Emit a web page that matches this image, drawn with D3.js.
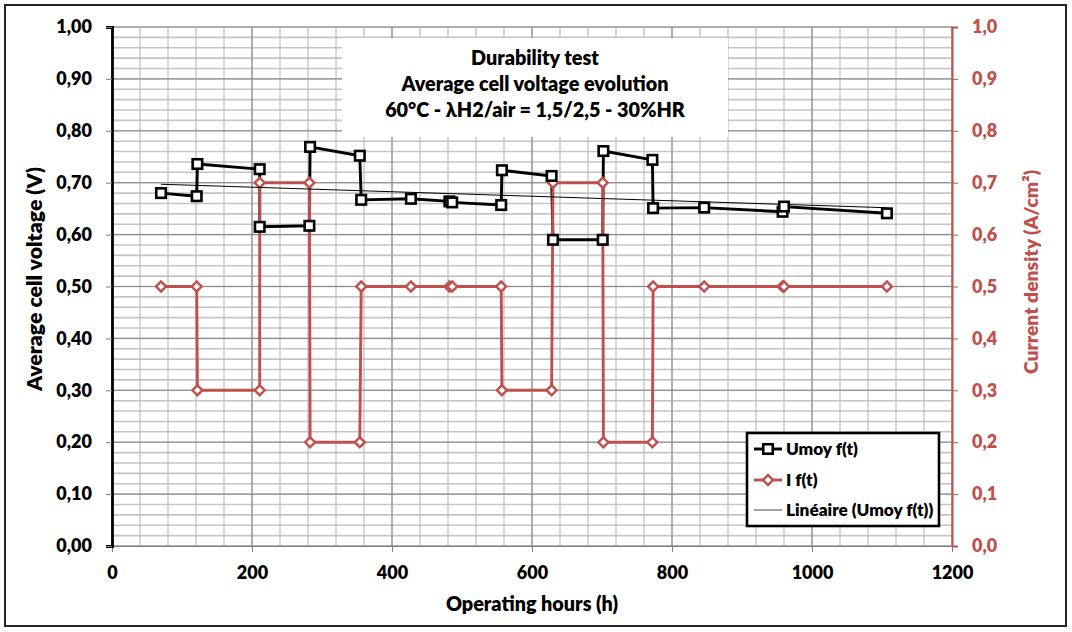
<!DOCTYPE html>
<html>
<head>
<meta charset="utf-8">
<script src="https://cdn.jsdelivr.net/npm/d3@7/dist/d3.min.js"></script>
<style>
  html, body { margin: 0; padding: 0; background: #fff; }
  svg { display: block; }
  text { font-family: Lato, "Open Sans", sans-serif; font-weight: 800; }
</style>
</head>
<body>
<svg id="chart" width="1072" height="632"></svg>
<script>
// Durability test: operating hours, average cell voltage, current density
const hours   = [70, 121, 122, 211, 211, 282, 283, 354, 356, 427, 482, 486,
                 556, 557, 628, 630, 701, 702, 772, 773, 846, 958, 960, 1107];
const voltage = [0.680, 0.674, 0.736, 0.726, 0.615, 0.617, 0.769, 0.752, 0.667, 0.669, 0.664, 0.662,
                 0.657, 0.724, 0.713, 0.590, 0.590, 0.761, 0.744, 0.651, 0.652, 0.644, 0.654, 0.641];
const current = [0.5, 0.5, 0.3, 0.3, 0.7, 0.7, 0.2, 0.2, 0.5, 0.5, 0.5, 0.5,
                 0.5, 0.3, 0.3, 0.7, 0.7, 0.2, 0.2, 0.5, 0.5, 0.5, 0.5, 0.5];

const xTicks = [0, 200, 400, 600, 800, 1000, 1200];
const xTickLabels = ["0", "200", "400", "600", "800", "1000", "1200"];
const yTicks = [0, 0.1, 0.2, 0.3, 0.4, 0.5, 0.6, 0.7, 0.8, 0.9, 1.0];
const voltTickLabels = ["0,00", "0,10", "0,20", "0,30", "0,40", "0,50", "0,60", "0,70", "0,80", "0,90", "1,00"];
const currTickLabels = ["0,0", "0,1", "0,2", "0,3", "0,4", "0,5", "0,6", "0,7", "0,8", "0,9", "1,0"];

const titleLines = ["Durability test", "Average cell voltage evolution", "60°C - λH2/air = 1,5/2,5 - 30%HR"];
const legendLabels = ["Umoy f(t)", "I f(t)", "Linéaire (Umoy f(t))"];

const RED = "#c0504d";
const svg = d3.select("#chart");

// plot frame
const L = 112, R = 952, T = 27, B = 546;
const x = d3.scaleLinear().domain([0, 1200]).range([L, R]);
const yV = d3.scaleLinear().domain([0, 1]).range([B, T]);
const yI = d3.scaleLinear().domain([0, 1]).range([B, T]);

// outer chart border
svg.append("rect").attr("x", 5).attr("y", 5).attr("width", 1061).attr("height", 621)
  .attr("fill", "#fff").attr("stroke", "#262626").attr("stroke-width", 2);

// gridlines
const grid = svg.append("g");
grid.selectAll(".hmin").data(d3.range(0, 1.0001, 0.02)).join("line")
  .attr("x1", L).attr("x2", R).attr("y1", d => yV(d)).attr("y2", d => yV(d))
  .attr("stroke", "#c4c4c4").attr("stroke-width", 1.6);
grid.selectAll(".vmin").data(d3.range(0, 1200.1, 40)).join("line")
  .attr("y1", T).attr("y2", B).attr("x1", d => x(d)).attr("x2", d => x(d))
  .attr("stroke", "#bdbdbd").attr("stroke-width", 1.2);
grid.selectAll(".hmaj").data(yTicks).join("line")
  .attr("x1", L).attr("x2", R).attr("y1", d => yV(d)).attr("y2", d => yV(d))
  .attr("stroke", "#8a8a8a").attr("stroke-width", 1);
grid.selectAll(".vmaj").data(xTicks).join("line")
  .attr("y1", T).attr("y2", B).attr("x1", d => x(d)).attr("x2", d => x(d))
  .attr("stroke", "#858585").attr("stroke-width", 1);

// title panel
svg.append("rect").attr("x", 342).attr("y", 38).attr("width", 386).attr("height", 99).attr("fill", "#fff");
svg.append("g").selectAll("text").data(titleLines).join("text")
  .attr("x", 535).attr("y", (d, i) => 65 + i * 26)
  .attr("text-anchor", "middle").attr("font-size", 19.8).attr("fill", "#000")
  .text(d => d);

// axes
const tickFont = sel => sel.attr("font-size", 18).attr("font-family", "Lato, sans-serif").attr("font-weight", 800);

const axL = svg.append("g").attr("transform", `translate(${L},0)`)
  .call(d3.axisLeft(yV).tickValues(yTicks).tickFormat((d, i) => voltTickLabels[i]).tickSize(6).tickPadding(14));
axL.select(".domain").attr("stroke", "#000").attr("stroke-width", 2.8);
axL.selectAll(".tick line").attr("stroke", "#808080");
axL.selectAll(".tick text").call(tickFont).attr("fill", "#000");

const axR = svg.append("g").attr("transform", `translate(${R},0)`)
  .call(d3.axisRight(yI).tickValues(yTicks).tickFormat((d, i) => currTickLabels[i]).tickSize(6).tickPadding(14));
axR.select(".domain").attr("stroke", RED).attr("stroke-width", 2);
axR.selectAll(".tick line").attr("stroke", RED);
axR.selectAll(".tick text").call(tickFont).attr("fill", RED);

const axB = svg.append("g").attr("transform", `translate(0,${B})`)
  .call(d3.axisBottom(x).tickValues(xTicks).tickFormat((d, i) => xTickLabels[i]).tickSize(6).tickPadding(14));
axB.select(".domain").attr("stroke", "#808080").attr("stroke-width", 1);
axB.selectAll(".tick line").attr("stroke", "#808080");
axB.selectAll(".tick text").call(tickFont).attr("fill", "#000");
// keep the heavy left spine on top of the bottom axis line
axL.raise();

// axis titles
svg.append("text").attr("transform", "translate(42,279) rotate(-90)")
  .attr("text-anchor", "middle").attr("font-size", 21.3).attr("fill", "#000")
  .text("Average cell voltage (V)");
svg.append("text").attr("transform", "translate(1038,272) rotate(-90)")
  .attr("text-anchor", "middle").attr("font-size", 19.3).attr("fill", RED)
  .text("Current density (A/cm²)");
svg.append("text").attr("x", 532).attr("y", 611)
  .attr("text-anchor", "middle").attr("font-size", 19.8).attr("fill", "#000")
  .text("Operating hours (h)");

// series
const pts = hours.map((h, i) => ({ h, u: voltage[i], c: current[i] }));
const lineV = d3.line().x(d => x(d.h)).y(d => yV(d.u));
const lineI = d3.line().x(d => x(d.h)).y(d => yI(d.c));

svg.append("path").datum(pts).attr("d", lineV)
  .attr("fill", "none").attr("stroke", "#000").attr("stroke-width", 2.9).attr("stroke-linejoin", "round");

// linear trend of the voltage series (least squares)
const mh = d3.mean(hours), mu = d3.mean(voltage);
const slope = d3.sum(hours, (h, i) => (h - mh) * (voltage[i] - mu)) / d3.sum(hours, h => (h - mh) ** 2);
const icpt = mu - slope * mh;
const hExt = d3.extent(hours);

svg.append("path").datum(pts).attr("d", lineI)
  .attr("fill", "none").attr("stroke", RED).attr("stroke-width", 2.9).attr("stroke-linejoin", "round");

const diamond = d3.symbol().type(d3.symbolSquare).size(50);
svg.append("g").selectAll("path").data(pts).join("path")
  .attr("d", diamond())
  .attr("transform", d => `translate(${x(d.h)},${yI(d.c)}) rotate(45)`)
  .attr("fill", "#fff").attr("stroke", RED).attr("stroke-width", 2.4);

svg.append("line")
  .attr("x1", x(hExt[0])).attr("x2", x(hExt[1]))
  .attr("y1", yV(icpt + slope * hExt[0])).attr("y2", yV(icpt + slope * hExt[1]))
  .attr("stroke", "#000").attr("stroke-width", 1);

svg.append("g").selectAll("rect").data(pts).join("rect")
  .attr("x", d => x(d.h) - 4.75).attr("y", d => yV(d.u) - 4.75)
  .attr("width", 9.5).attr("height", 9.5)
  .attr("fill", "#fff").attr("stroke", "#000").attr("stroke-width", 2.6);

// legend
const lg = svg.append("g");
lg.append("rect").attr("x", 747).attr("y", 433).attr("width", 192).attr("height", 93)
  .attr("fill", "#fff").attr("stroke", "#000").attr("stroke-width", 2.6);
const rowY = [449, 480, 510];
lg.selectAll("text").data(legendLabels).join("text")
  .attr("x", 786).attr("y", (d, i) => rowY[i]).attr("dy", "0.35em")
  .attr("font-size", 17.2).attr("fill", "#000").text(d => d);
// row 1: voltage
lg.append("line").attr("x1", 754).attr("x2", 782).attr("y1", rowY[0]).attr("y2", rowY[0])
  .attr("stroke", "#000").attr("stroke-width", 2.9);
lg.append("rect").attr("x", 768 - 4.75).attr("y", rowY[0] - 4.75).attr("width", 9.5).attr("height", 9.5)
  .attr("fill", "#fff").attr("stroke", "#000").attr("stroke-width", 2.6);
// row 2: current
lg.append("line").attr("x1", 754).attr("x2", 782).attr("y1", rowY[1]).attr("y2", rowY[1])
  .attr("stroke", RED).attr("stroke-width", 2.9);
lg.append("path").attr("d", diamond()).attr("transform", `translate(768,${rowY[1]}) rotate(45)`)
  .attr("fill", "#fff").attr("stroke", RED).attr("stroke-width", 2.4);
// row 3: trend
lg.append("line").attr("x1", 754).attr("x2", 782).attr("y1", rowY[2]).attr("y2", rowY[2])
  .attr("stroke", "#444").attr("stroke-width", 1);
</script>
</body>
</html>
